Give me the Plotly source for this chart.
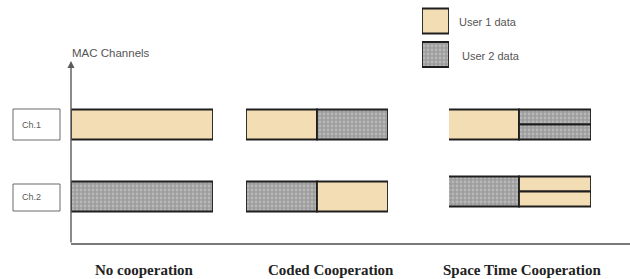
import plotly.graph_objects as go

# ---------------- data ----------------
schemes = ["No cooperation", "Coded Cooperation", "Space Time Cooperation"]
channels = ["Ch.1", "Ch.2"]
users = ["User 1 data", "User 2 data"]
axis_title = "MAC Channels"

# one entry per data block drawn in a channel
seg_scheme = [0, 0, 1, 1, 1, 1, 2, 2, 2, 2, 2, 2]
seg_channel = [0, 1, 0, 0, 1, 1, 0, 0, 0, 1, 1, 1]
seg_user = [0, 1, 0, 1, 1, 0, 0, 1, 1, 1, 0, 0]
seg_start = [0, 0, 0, 1, 0, 1, 0, 1, 1, 0, 1, 1]      # time slot
seg_length = [2, 2, 1, 1, 1, 1, 1, 1, 1, 1, 1, 1]     # slots
seg_part = ["full", "full", "full", "full", "full", "full",
            "full", "top", "bottom", "full", "top", "bottom"]

# ---------------- layout / style ----------------
W, H = 630, 279
def px(x): return x / W
def py(y): return 1 - y / H

scheme_dom = [(71, 213), (246, 388), (447, 591)]
row_center = [124.5, 196.5]
row_shift = {(2, 1): -5}          # space-time Ch.2 row sits slightly higher
bar_h = 30

TAN = "#f2ddb4"
GRAY_BG = "#9c9c9c"
GRAY_FG = "#d4d4d4"
EDGE = "#1e1e1e"

def user_marker(u):
    if u == 0:
        return dict(color=TAN, line=dict(color=EDGE, width=1.8))
    return dict(color=GRAY_BG,
                pattern=dict(shape=".", bgcolor=GRAY_BG, fgcolor=GRAY_FG,
                             size=4, solidity=0.4),
                line=dict(color=EDGE, width=1.8))

fig = go.Figure()

for s, c, u, st, ln, part in zip(seg_scheme, seg_channel, seg_user,
                                 seg_start, seg_length, seg_part):
    cy = row_center[c] + row_shift.get((s, c), 0)
    h = bar_h
    if part == "top":
        cy -= bar_h / 4
        h = bar_h / 2
    elif part == "bottom":
        cy += bar_h / 4
        h = bar_h / 2
    xa = "x" if s == 0 else f"x{s + 1}"
    fig.add_trace(go.Bar(
        orientation="h", base=[st], x=[ln], y=[cy], width=[h],
        xaxis=xa, yaxis="y", marker=user_marker(u),
        showlegend=False, hoverinfo="skip"))

# legend swatches (drawn as bars on their own axis)
legend_y = [21, 54.5]
for i, u in enumerate(users):
    fig.add_trace(go.Bar(
        orientation="h", base=[0], x=[1], y=[legend_y[i]], width=[25],
        xaxis="x4", yaxis="y", marker=user_marker(i),
        showlegend=False, hoverinfo="skip"))

layout = dict(
    width=W, height=H, margin=dict(l=0, r=0, t=0, b=0),
    paper_bgcolor="white", plot_bgcolor="white",
    barmode="overlay", showlegend=False,
    yaxis=dict(range=[H, 0], domain=[0, 1], visible=False, fixedrange=True),
)
for i, (a, b) in enumerate(scheme_dom):
    key = "xaxis" if i == 0 else f"xaxis{i + 1}"
    layout[key] = dict(domain=[px(a), px(b)], range=[0, 2], visible=False,
                       anchor="y")
layout["xaxis4"] = dict(domain=[px(422), px(449)], range=[0, 1],
                        visible=False, anchor="y")
fig.update_layout(**layout)

AX = "#5a5a5a"
# vertical axis with arrow
fig.add_annotation(x=px(71), y=py(61), ax=0, ay=244 - 61,
                   xref="paper", yref="paper", axref="pixel", ayref="pixel",
                   text="", showarrow=True, arrowhead=2, arrowsize=1,
                   arrowwidth=1.4, arrowcolor=AX)
# horizontal axis
fig.add_shape(type="line", xref="paper", yref="paper",
              x0=px(71), x1=px(630), y0=py(244), y1=py(244),
              line=dict(color="#7a7a7a", width=1.8))

SANS = "Liberation Sans"
fig.add_annotation(x=px(70), y=py(53), xref="paper", yref="paper",
                   text=axis_title, showarrow=False, xanchor="left",
                   yanchor="middle",
                   font=dict(family=SANS, size=11.5, color="#555"))

# channel label boxes
box_y = [(109, 140), (184, 211)]
text_y = [125, 197]
for i, ch in enumerate(channels):
    y0, y1 = box_y[i]
    fig.add_shape(type="rect", xref="paper", yref="paper",
                  x0=px(13), x1=px(60), y0=py(y1), y1=py(y0),
                  line=dict(color="#6a6a6a", width=1), fillcolor="white")
    fig.add_annotation(x=px(31), y=py(text_y[i]), xref="paper",
                       yref="paper", text=ch, showarrow=False,
                       xanchor="center", yanchor="middle",
                       font=dict(family=SANS, size=9, color="#5a5a5a"))

# legend labels
legend_tx = [457, 460]
for i, u in enumerate(users):
    fig.add_annotation(x=px(legend_tx[i]), y=py(legend_y[i] + 1), xref="paper",
                       yref="paper", text=u, showarrow=False, xanchor="left",
                       yanchor="middle",
                       font=dict(family=SANS, size=11, color="#555"))

# scheme labels
label_cx = [144, 330.5, 521.5]
for i, s in enumerate(schemes):
    fig.add_annotation(x=px(label_cx[i]), y=py(270), xref="paper",
                       yref="paper", text=f"<b>{s}</b>", showarrow=False,
                       xanchor="center", yanchor="middle",
                       font=dict(family="Liberation Serif", size=15,
                                 color="#222"))

fig.write_html("out.html", config={"displayModeBar": False},
               post_script="document.body.style.margin='0';"
                           "document.body.style.padding='0';")
